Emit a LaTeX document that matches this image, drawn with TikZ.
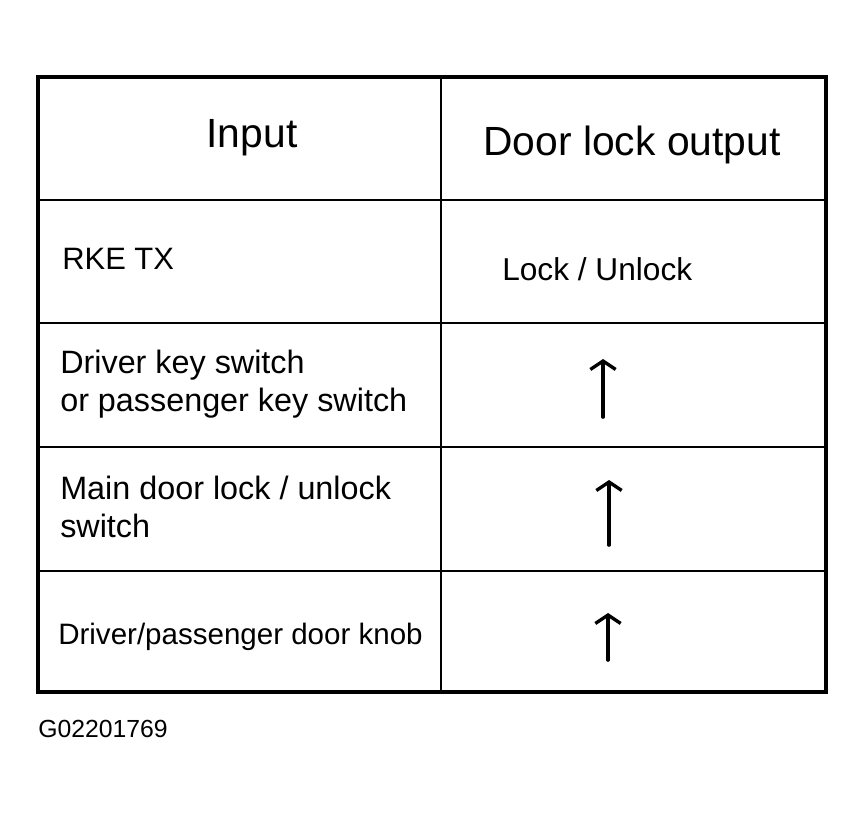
\documentclass[tikz,border=0pt]{standalone}
\usepackage{fontspec}
\setmainfont{Liberation Sans}
\usepackage{tikz}
\usetikzlibrary{arrows.meta}

\begin{document}
\begin{tikzpicture}[x=0.025cm, y=-0.025cm, style={line cap = round}]
  \useasboundingbox (0,0) rectangle (864,813);
  % \draw[help lines, step=50] (0,0) grid (864,813);
  \draw[line width=2.2pt] (38,77) rectangle (826,692);
  \draw[line width=1.5pt] (441,77) -- (441,692);
  \foreach \y in {200, 323, 447, 571} \draw[line width=1.5pt] (38,\y) -- (826,\y);
  \node[anchor=base, inner sep=0pt, font=\fontsize{29pt}{34pt}\selectfont] (input) at (252,148) {Input};
  \node[anchor=base, inner sep=0pt, font=\fontsize{29pt}{34pt}\selectfont] (output) at (632,156) {Door lock output};
  \node[anchor=base west, inner sep=0pt, font=\fontsize{22pt}{28pt}\selectfont] (rke) at (62,270) {RKE TX};
  \node[anchor=base west, inner sep=0pt, font=\fontsize{22.5pt}{28pt}\selectfont] (lock) at (502,281) {Lock / Unlock};
  \node[anchor=base west, inner sep=0pt, align=left, font=\fontsize{23pt}{27.7pt}\selectfont] (key) at (60,412) {Driver key switch\\or passenger key switch};
  \node[anchor=base west, inner sep=0pt, align=left, font=\fontsize{23pt}{27.7pt}\selectfont] (main) at (60,538) {Main door lock / unlock\\switch};
  \node[anchor=base west, inner sep=0pt, font=\fontsize{21pt}{26pt}\selectfont] (knob) at (58,645) {Driver/passenger door knob};
  \node[anchor=base west, inner sep=0pt, font=\fontsize{17.6pt}{21pt}\selectfont] (code) at (38,737) {G02201769};
  \coordinate (keyA) at (603,417);  \coordinate (keyB) at (603,359);
  \coordinate (mainA) at (609,545); \coordinate (mainB) at (609,480);
  \coordinate (knobA) at (608,660); \coordinate (knobB) at (608,613);
  \foreach \r in {key, main, knob}
    \draw[line width=2.6pt, -{Straight Barb[length=6pt, width=18pt, line width=2.4pt]}] (\r A) -- (\r B);
\end{tikzpicture}
\end{document}
